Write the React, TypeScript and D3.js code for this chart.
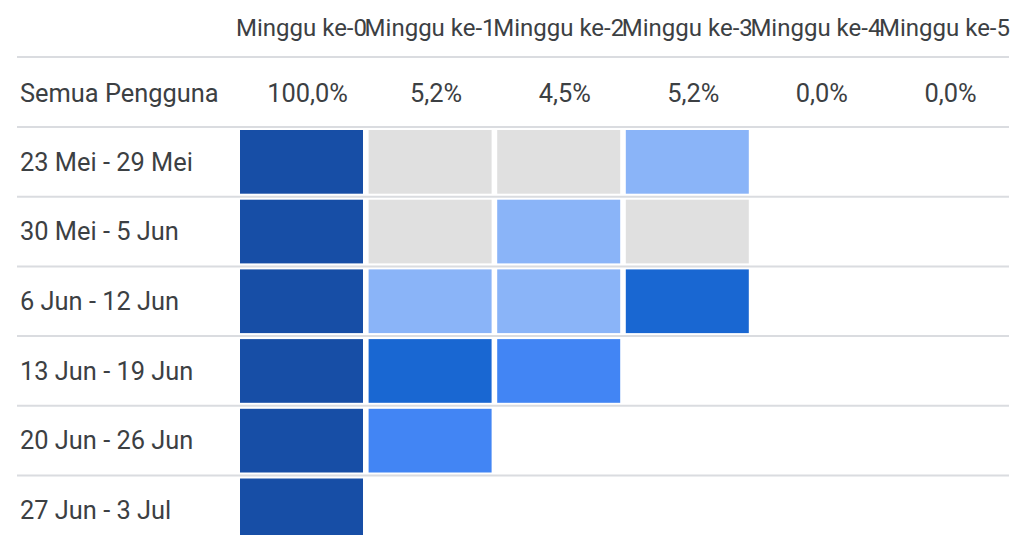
import React from "react";
import * as d3 from "d3";

const weeks = ["Minggu ke-0", "Minggu ke-1", "Minggu ke-2", "Minggu ke-3", "Minggu ke-4", "Minggu ke-5"];
const totalLabel = "Semua Pengguna";
const totals = [100.0, 5.2, 4.5, 5.2, 0.0, 0.0];
const cohorts = ["23 Mei - 29 Mei", "30 Mei - 5 Jun", "6 Jun - 12 Jun", "13 Jun - 19 Jun", "20 Jun - 26 Jun", "27 Jun - 3 Jul"];
const retention: number[][] = [
  [100, 0, 0, 4.8],
  [100, 0, 3.9, 0],
  [100, 4.3, 5.0, 10.9],
  [100, 9.1, 6.6],
  [100, 6.7],
  [100],
];
const thresholds = [0.01, 5.5, 8, 20];
const palette = ["#e0e0e0", "#8ab4f8", "#4285f4", "#1967d2", "#174ea6"];

const W = 1015;
const H = 535;
const FONT = "Roboto, 'Noto Sans', sans-serif";
const TEXT = "#3c4043";
const RULE = "#dadce0";
const HEAD_SIZE = 24;
const BODY_SIZE = 25.4;

export default function App() {
  const x = d3.scaleBand<string>().domain(weeks).range([237.2, 1008.8]);
  const y = d3.scaleBand<string>().domain(cohorts).range([127, 127 + 6 * 69.7]);
  const color = d3.scaleThreshold<number, string>().domain(thresholds).range(palette);
  const fmt = (v: number) => d3.format(".1f")(v).replace(".", ",") + "%";
  const bw = x.bandwidth();
  const bh = y.bandwidth();
  const lineYs = [57, ...cohorts.map((c) => y(c)!)];

  return (
    <svg width={W} height={H} style={{ position: "fixed", left: 0, top: 0, background: "#fff" }} fontFamily={FONT}>
      <rect width={W} height={H} fill="#fff" />
      {weeks.map((w) => (
        <text key={w} x={x(w)! + bw / 2} y={36} textAnchor="middle" fontSize={HEAD_SIZE} fill={TEXT}>
          {w}
        </text>
      ))}
      {lineYs.map((ly, i) => (
        <line key={i} x1={17} x2={1009} y1={ly} y2={ly} stroke={RULE} strokeWidth={2} />
      ))}
      <text x={20} y={101.5} fontSize={BODY_SIZE} fill={TEXT}>
        {totalLabel}
      </text>
      {totals.map((v, i) => (
        <text key={i} x={x(weeks[i])! + bw / 2 + 6} y={101.5} textAnchor="middle" fontSize={BODY_SIZE} fill={TEXT}>
          {fmt(v)}
        </text>
      ))}
      {cohorts.map((c, r) => (
        <g key={c}>
          <text x={20} y={y(c)! + 43.5} fontSize={BODY_SIZE} fill={TEXT}>
            {c}
          </text>
          {retention[r].map((v, j) => (
            <rect
              key={j}
              x={x(weeks[j])! + 2.8}
              y={y(c)! + 3}
              width={bw - 5.6}
              height={bh - 6}
              fill={color(v)}
            />
          ))}
        </g>
      ))}
    </svg>
  );
}
